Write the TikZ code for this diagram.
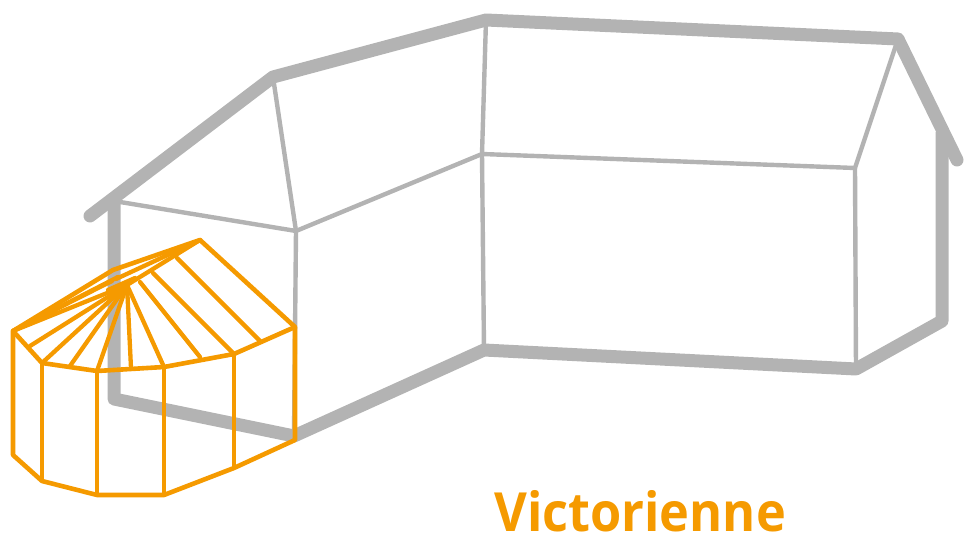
\documentclass[tikz,border=0pt]{standalone}
\usepackage{xcolor}
\usepackage{fontspec}
\setmainfont{Open Sans}[FakeStretch=0.935]
\usepackage{tikz}
\usetikzlibrary{calc}
\usetikzlibrary{positioning}
\definecolor{wallgray}{HTML}{B3B3B3}
\definecolor{veranda}{HTML}{F59A00}
\tikzstyle{outline} = [draw = wallgray, line width = 13pt, line join = round, line cap = round]
\tikzstyle{edge} = [draw = wallgray, line width = 4.4pt, line join = round]
\tikzstyle{frame} = [draw = veranda, line width = 4.6pt, line join = round]
\tikzstyle{rafter} = [draw = veranda, line width = 4.3pt, line cap = round]

\begin{document}
\begin{tikzpicture}[x = 1pt, y = -1pt]
\useasboundingbox (0, 0) rectangle (967, 545);
% house
\coordinate (eaveL) at (90, 216);
\coordinate (ridgeA) at (273, 77);
\coordinate (ridgeB) at (486, 20);
\coordinate (ridgeC) at (898, 39);
\coordinate (eaveR) at (957, 160);
\coordinate (topL) at (114, 201);
\coordinate (footL) at (114, 399);
\coordinate (footA) at (294, 436);
\coordinate (footB) at (484, 350);
\coordinate (footC) at (856, 369);
\coordinate (footD) at (942, 321);
\coordinate (topD) at (942, 132);
\coordinate (headA) at (296, 231);
\coordinate (headB) at (482, 154);
\coordinate (headC) at (855, 168);
\draw [edge] (topL) -- (headA) -- (ridgeA);
\draw [edge] (headA) -- (headB) -- (ridgeB);
\draw [edge] (headB) -- (headC) -- (ridgeC);
\draw [edge] (headA) -- (footA);
\draw [edge] (headB) -- (footB);
\draw [edge] (headC) -- (footC);
\draw [outline] (eaveL) -- (ridgeA) -- (ridgeB) -- (ridgeC) -- (eaveR);
\draw [outline, line cap = butt] (topL) -- (footL) -- (footA) -- (footB) -- (footC) -- (footD) -- (topD);
% veranda
\coordinate (hub) at (127, 285);
\coordinate (peak) at (113, 270);
\coordinate (apexR) at (200, 240);
\coordinate (w0) at (13, 331);
\coordinate (w1) at (42, 363);
\coordinate (w2) at (97, 371);
\coordinate (w3) at (164, 367);
\coordinate (w4) at (234, 354);
\coordinate (w5) at (295, 327);
\coordinate (b0) at (13, 455);
\coordinate (b1) at (42, 481);
\coordinate (b2) at (97, 495);
\coordinate (b3) at (164, 495);
\coordinate (b4) at (234, 468);
\coordinate (b5) at (295, 440);
\draw [frame] (w0) -- (peak) -- (apexR) -- (w5) -- (b5) -- (b4) -- (b3) -- (b2) -- (b1) -- (b0) -- cycle;
\draw [frame] (w0) -- (w1) -- (w2) -- (w3) -- (w4) -- (w5);
\foreach \n in {1, 2, 3, 4}
  \draw [frame] (w\n) -- (b\n);
\foreach \x/\y in {30/346, 42/363, 70/366, 97/371, 131/368, 164/367}
  \draw [rafter] (\x, \y) -- (hub);
\draw [rafter] (200, 357) -- (140, 282);
\draw [rafter] (234, 354) -- (153, 273);
\draw [rafter] (260, 341) -- (177, 258);
\draw [rafter] (w0) -- (hub) -- (apexR);
\draw [rafter] (w0) -- (112, 281);
\draw [rafter] (w0) -- (118, 277);
\draw [rafter] (116, 279) -- (apexR);
\draw [rafter] (108, 290) -- (135, 278);
\node [inner sep = 0, anchor = base west, text = veranda, font = \fontsize{54}{54}\selectfont\bfseries] (label) at (494, 531) {Victorienne};
\end{tikzpicture}
\end{document}
